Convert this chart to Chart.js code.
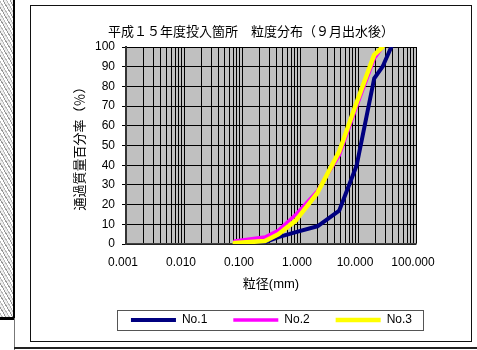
<!DOCTYPE html>
<html>
<head>
<meta charset="utf-8">
<script src="https://cdn.jsdelivr.net/npm/chart.js@4.4.1/dist/chart.umd.min.js"></script>
<style>
  html, body { margin: 0; padding: 0; background: #fff; }
  #wrap { position: relative; width: 477px; height: 350px; overflow: hidden; }
  #strip { position: absolute; left: 0; top: 0; width: 13px; height: 318px;
    background: repeating-linear-gradient(60deg, #eeeeee 0 2px, #b8b8b8 2px 3px, #ffffff 3px 5px, #999 5px 6px); }
  #stripLine { position: absolute; left: 13px; top: 0; width: 2px; height: 320px; background: #000; }
  #stripBase { position: absolute; left: 0; top: 317px; width: 15px; height: 3px; background: #000; }
  #outerV { position: absolute; left: 14px; top: 318px; width: 1px; height: 32px; background: #777; }
  #outerH { position: absolute; left: 14px; top: 347px; width: 463px; height: 2px; background: #222; }
  #box { position: absolute; left: 30px; top: 5px; width: 440px; height: 335px; border: 1.5px solid #111; }
  canvas { position: absolute; left: 0; top: 0; }
</style>
</head>
<body>
<div id="wrap">
  <div id="strip"></div>
  <div id="stripLine"></div>
  <div id="stripBase"></div>
  <div id="outerV"></div>
  <div id="outerH"></div>
  <div id="box"></div>
  <canvas id="c" width="477" height="350"></canvas>
</div>
<script>
// ---- data ----
const titleText = '平成１５年度投入箇所　粒度分布（９月出水後）';
const xAxisTitle = '粒径(mm)';
const yAxisTitle = '通過質量百分率（％）';
const seriesNames = ['No.1', 'No.2', 'No.3'];
// sieve sizes (mm)
const sieveSizes = [0.075, 0.25, 0.425, 0.85, 2, 4.75, 9.5, 19, 26.5, 37.5];
// percent passing
const no1 = [0.5, 1, 3.5, 6, 9, 17, 40, 84, 90, 100];
const no2 = [1.5, 3.5, 7, 15, 27, 45, 70, 94, 100, null];
const no3 = [0.5, 1.5, 5, 12, 26, 47, 72, 96, 100, null];
// x tick labels (decades)
const xTickValues = [0.001, 0.01, 0.1, 1, 10, 100];
const xTickLabels = ['0.001', '0.010', '0.100', '1.000', '10.000', '100.000'];
const yTicks = [0, 10, 20, 30, 40, 50, 60, 70, 80, 90, 100];

const FONT = "'Liberation Sans', Arial, 'Noto Sans CJK JP', sans-serif";

function pts(vals) {
  const out = [];
  sieveSizes.forEach((s, i) => { if (vals[i] !== null) out.push({x: s, y: vals[i]}); });
  return out;
}

// grid line positions: 1..9 x each decade
const gridValues = [];
for (let d = 0; d < xTickValues.length - 1; d++) {
  for (let m = 1; m <= 9; m++) gridValues.push(+(xTickValues[d] * m).toPrecision(6));
}
gridValues.push(xTickValues[xTickValues.length - 1]);

const plotBg = {
  id: 'plotBg',
  beforeDraw(chart) {
    const {ctx, chartArea: a} = chart;
    ctx.save();
    ctx.fillStyle = '#c0c0c0';
    ctx.fillRect(a.left, a.top, a.right - a.left, a.bottom - a.top);
    ctx.restore();
  }
};
const legendBorder = {
  id: 'legendBorder',
  afterDraw(chart) {
    const hb = chart.legend && chart.legend.legendHitBoxes;
    if (!hb || !hb.length) return;
    const last = hb[hb.length - 1];
    const l = hb[0].left - 14, r = last.left + last.width + 11;
    const t = hb[0].top - 4, h = 20;
    const ctx = chart.ctx;
    ctx.save();
    ctx.strokeStyle = '#555';
    ctx.lineWidth = 1;
    ctx.strokeRect(Math.round(l) + 0.5, Math.round(t) + 0.5, Math.round(r - l), h);
    ctx.restore();
  }
};

const colors = ['#000080', '#ff00ff', '#ffff00'];
const widths = [4, 3.5, 4.5];
const dataVals = [no1, no2, no3];

new Chart(document.getElementById('c'), {
  type: 'line',
  data: {
    datasets: seriesNames.map((n, i) => ({
      label: n,
      data: pts(dataVals[i]),
      borderColor: colors[i],
      backgroundColor: colors[i],
      borderWidth: widths[i],
      borderCapStyle: 'round',
      borderJoinStyle: 'round',
      pointRadius: 0,
      pointStyle: 'line',
      tension: 0,
      fill: false,
      order: 2 - i
    }))
  },
  options: {
    responsive: false,
    animation: false,
    devicePixelRatio: 1,
    layout: { padding: { left: 64, right: 39, top: 10, bottom: 14 } },
    plugins: {
      title: {
        display: true, text: titleText, color: '#000',
        font: { family: FONT, size: 13, weight: 'normal' },
        padding: { top: 14.2, bottom: 7.2 }
      },
      legend: {
        display: true, position: 'bottom', align: 'end',
        labels: {
          usePointStyle: true, pointStyle: 'line', pointStyleWidth: 45,
          padding: 26, color: '#000',
          font: { family: FONT, size: 12 },
          sort: (a, b) => a.datasetIndex - b.datasetIndex
        }
      },
      tooltip: { enabled: false }
    },
    scales: {
      x: {
        type: 'logarithmic', position: 'bottom',
        min: 0.001, max: 100,
        afterBuildTicks: (s) => { s.ticks = gridValues.map(v => ({value: v})); },
        afterFit: (s) => { s.height = 44; },
        grid: { color: '#000', lineWidth: 1, drawTicks: false },
        border: { color: '#444', width: 1.5 },
        ticks: {
          autoSkip: false, maxRotation: 0, minRotation: 0,
          padding: 11, labelOffset: -3, color: '#000',
          font: { family: FONT, size: 12 },
          callback: (v) => {
            const k = xTickValues.findIndex(t => Math.abs(t - v) / t < 1e-6);
            return k >= 0 ? xTickLabels[k] : '';
          }
        },
        title: {
          display: true, text: xAxisTitle, color: '#000',
          font: { family: FONT, size: 13 },
          padding: { top: 0, bottom: -3.8 }
        }
      },
      y: {
        type: 'linear', position: 'left',
        min: 0, max: 100,
        afterBuildTicks: (s) => { s.ticks = yTicks.map(v => ({value: v})); },
        afterFit: (s) => { s.width = 62; },
        grid: { color: '#000', lineWidth: 1, drawTicks: true, tickLength: 4 },
        border: { color: '#333', width: 2 },
        ticks: { padding: 7, color: '#000', font: { family: FONT, size: 12 } },
        title: {
          display: true, text: yAxisTitle, color: '#000',
          font: { family: FONT, size: 13 },
          padding: { top: 8.2, bottom: 0 }
        }
      },
      yRight: {
        type: 'linear', axis: 'y', position: 'right', display: true,
        grid: { display: false }, border: { display: false },
        ticks: { display: false },
        afterFit: (s) => { s.width = 22; }
      }
    }
  },
  plugins: [plotBg, legendBorder]
});
</script>
</body>
</html>
